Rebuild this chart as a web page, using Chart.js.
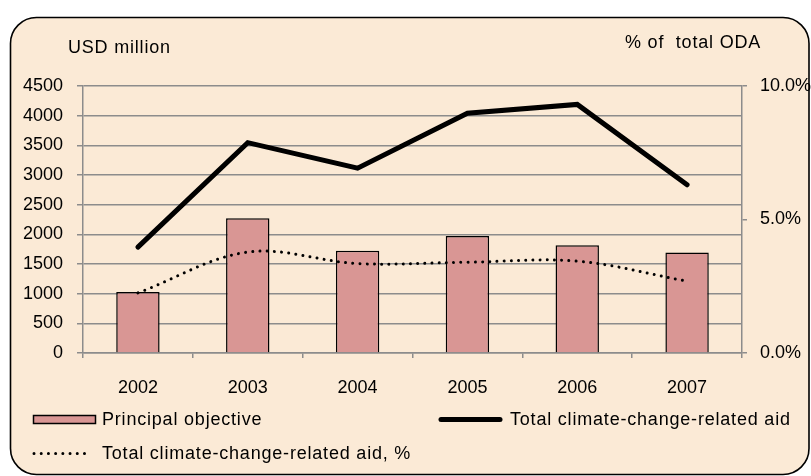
<!DOCTYPE html>
<html>
<head>
<meta charset="utf-8">
<script src="https://cdn.jsdelivr.net/npm/chart.js@4/dist/chart.umd.min.js"></script>
<style>
  html, body { margin: 0; padding: 0; background: #ffffff; }
  #wrap { width: 811px; height: 476px; position: relative; }
</style>
</head>
<body>
<div id="wrap"><canvas id="c" width="811" height="476"></canvas></div>
<script>
const years = ['2002', '2003', '2004', '2005', '2006', '2007'];
const principalObjective = [1030, 2270, 1725, 1970, 1815, 1695];
const totalAid = [1785, 3545, 3115, 4040, 4190, 2835];
const totalAidPct = [2.25, 3.78, 3.35, 3.40, 3.44, 2.69];
const leftTicks = [0, 500, 1000, 1500, 2000, 2500, 3000, 3500, 4000, 4500];
const rightTicks = [0, 5, 10];
const seriesNames = ['Principal objective', 'Total climate-change-related aid', 'Total climate-change-related aid, %'];
const leftTitle = 'USD million';
const rightTitle = '% of  total ODA';

const FONT = '"Liberation Sans", Arial, sans-serif';
const BAR_COLOR = '#D99694';
const GRID = '#8C8C8C';

const framePlugin = {
  id: 'frame',
  beforeDraw(chart) {
    const ctx = chart.ctx;
    ctx.save();
    const x = 10.5, y = 17.5, w = 811 - 10.5 - 2, h = 476 - 17.5 - 1.5, r = 26;
    ctx.beginPath();
    ctx.moveTo(x + r, y);
    ctx.lineTo(x + w - r, y);
    ctx.arcTo(x + w, y, x + w, y + r, r);
    ctx.lineTo(x + w, y + h - r);
    ctx.arcTo(x + w, y + h, x + w - r, y + h, r);
    ctx.lineTo(x + r, y + h);
    ctx.arcTo(x, y + h, x, y + h - r, r);
    ctx.lineTo(x, y + r);
    ctx.arcTo(x, y, x + r, y, r);
    ctx.closePath();
    ctx.fillStyle = '#FBEAD6';
    ctx.fill();
    ctx.lineWidth = 1.6;
    ctx.strokeStyle = '#000000';
    ctx.stroke();
    ctx.restore();
  },
  afterDraw(chart) {
    const ctx = chart.ctx;
    const ds = chart.data.datasets;
    ctx.save();
    ctx.fillStyle = '#000';
    ctx.font = '18px ' + FONT;
    ctx.textBaseline = 'middle';
    ctx.textAlign = 'left';
    ctx.letterSpacing = '0.8px';
    ctx.fillText(leftTitle, 68, 48);
    ctx.fillText(rightTitle, 625, 43);

    // legend row 1: bar
    ctx.fillStyle = ds[0].backgroundColor;
    ctx.strokeStyle = '#000';
    ctx.lineWidth = 1.5;
    ctx.fillRect(33.5, 415.5, 62, 8);
    ctx.strokeRect(33.5, 415.5, 62, 8);
    ctx.fillStyle = '#000';
    ctx.fillText(ds[0].label, 102, 420);

    // legend: solid line
    ctx.beginPath();
    ctx.lineWidth = ds[1].borderWidth;
    ctx.strokeStyle = ds[1].borderColor;
    ctx.lineCap = 'round';
    ctx.moveTo(441, 419.5);
    ctx.lineTo(500, 419.5);
    ctx.stroke();
    ctx.fillText(ds[1].label, 510, 420);

    // legend row 2: dotted
    ctx.beginPath();
    ctx.lineWidth = ds[2].borderWidth;
    ctx.setLineDash(ds[2].borderDash);
    ctx.lineCap = 'round';
    ctx.moveTo(34, 453.5);
    ctx.lineTo(89, 453.5);
    ctx.stroke();
    ctx.setLineDash([]);
    ctx.fillText(ds[2].label, 102, 454);
    ctx.restore();
  }
};

new Chart(document.getElementById('c'), {
  type: 'bar',
  data: {
    labels: years,
    datasets: [
      {
        type: 'bar',
        label: seriesNames[0],
        data: principalObjective,
        backgroundColor: BAR_COLOR,
        borderColor: '#000000',
        borderWidth: 1.5,
        barPercentage: 0.395,
        categoryPercentage: 1.0,
        yAxisID: 'y',
        order: 3
      },
      {
        type: 'line',
        label: seriesNames[1],
        data: totalAid,
        borderColor: '#000000',
        borderWidth: 5,
        pointRadius: 0,
        tension: 0,
        fill: false,
        borderCapStyle: 'round',
        borderJoinStyle: 'miter',
        yAxisID: 'y',
        order: 1
      },
      {
        type: 'line',
        label: seriesNames[2],
        data: totalAidPct,
        borderColor: '#000000',
        borderWidth: 3,
        borderDash: [0.01, 7.2],
        borderCapStyle: 'round',
        pointRadius: 0,
        tension: 0.35,
        fill: false,
        yAxisID: 'y1',
        order: 2
      }
    ]
  },
  options: {
    responsive: false,
    animation: false,
    devicePixelRatio: 1,
    layout: { padding: { top: 86, left: 0, right: 0, bottom: 0 } },
    plugins: {
      legend: { display: false },
      tooltip: { enabled: false },
      title: { display: false }
    },
    scales: {
      x: {
        offset: true,
        grid: {
          offset: true,
          drawOnChartArea: false,
          drawTicks: true,
          tickLength: 5,
          color: GRID,
          lineWidth: 1.5
        },
        border: { display: true, color: GRID, width: 1.5 },
        ticks: {
          color: '#000',
          font: { family: FONT, size: 18 },
          padding: 19
        },
        afterFit(scale) { scale.height = 123; }
      },
      y: {
        position: 'left',
        min: 0,
        max: 4500,
        afterBuildTicks(scale) { scale.ticks = leftTicks.map(v => ({ value: v })); },
        grid: {
          color: GRID,
          lineWidth: 1.5,
          drawTicks: true,
          tickLength: 6
        },
        border: { display: true, color: GRID, width: 1.5 },
        ticks: {
          color: '#000',
          font: { family: FONT, size: 18 },
          padding: 14,
          callback: (v) => String(v)
        },
        afterFit(scale) { scale.width = 83; }
      },
      y1: {
        position: 'right',
        min: 0,
        max: 10,
        afterBuildTicks(scale) { scale.ticks = rightTicks.map(v => ({ value: v })); },
        grid: {
          drawOnChartArea: false,
          color: GRID,
          lineWidth: 1.5,
          drawTicks: true,
          tickLength: 5
        },
        border: { display: true, color: GRID, width: 1.5 },
        ticks: {
          color: '#000',
          font: { family: FONT, size: 18 },
          padding: 13,
          callback: (v) => Number(v).toFixed(1) + '%'
        },
        afterFit(scale) { scale.width = 69; }
      }
    }
  },
  plugins: [framePlugin]
});
</script>
</body>
</html>
